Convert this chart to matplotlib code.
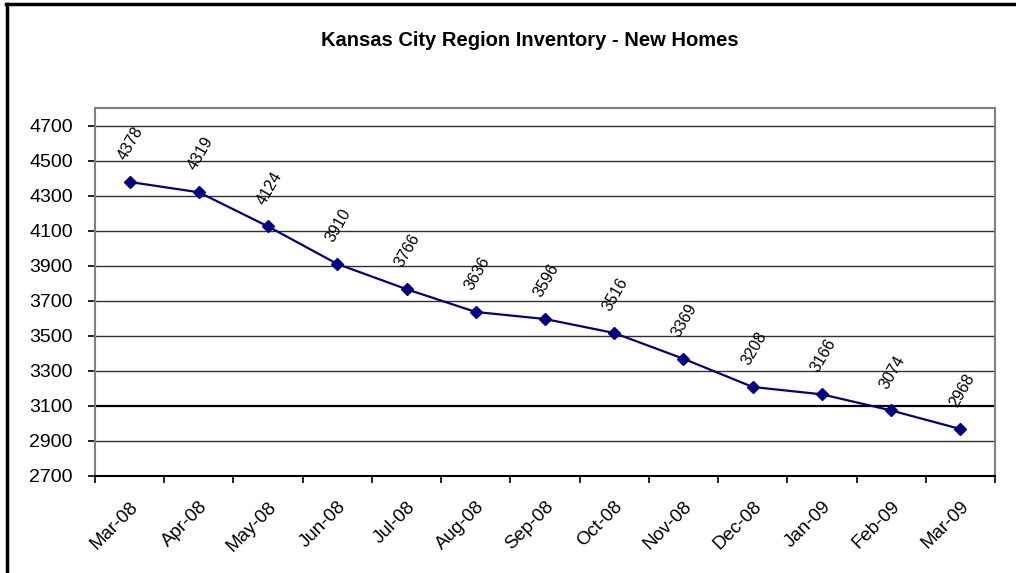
import matplotlib
matplotlib.use('Agg')
import matplotlib.pyplot as plt
from matplotlib.lines import Line2D
import numpy as np

plt.rcParams['font.family'] = ['Liberation Sans', 'DejaVu Sans']

months = ['Mar-08', 'Apr-08', 'May-08', 'Jun-08', 'Jul-08', 'Aug-08', 'Sep-08',
          'Oct-08', 'Nov-08', 'Dec-08', 'Jan-09', 'Feb-09', 'Mar-09']
inventory = [4378, 4319, 4124, 3910, 3766, 3636, 3596, 3516, 3369, 3208, 3166, 3074, 2968]
yticks = [2700, 2900, 3100, 3300, 3500, 3700, 3900, 4100, 4300, 4500, 4700]

fig = plt.figure(figsize=(10.16, 5.73), dpi=100)
ax = fig.add_axes([95/1016, 1-476/573, 900/1016, 368/573])

x = np.arange(len(months))

# grid lines
for v in yticks[1:]:
    if v == 3100:
        ax.axhline(v, color='black', lw=1.6, zorder=1)
    else:
        ax.axhline(v, color='#303030', lw=1.0, zorder=1)

ax.plot(x, inventory, color='#000080', lw=1.6, marker='D', markersize=6, zorder=3)

for xi, v in zip(x, inventory):
    ax.annotate(str(v), (xi, v), xytext=(1, 14), textcoords='offset points',
                ha='center', va='bottom', rotation=60, fontsize=11.5)

ax.set_xlim(-0.5, len(months) - 0.5)
ax.set_ylim(2700, 4800)
ax.set_yticks(yticks)
ax.tick_params(axis='y', labelsize=14, length=5, width=1.2, pad=11, direction='out')

ax.set_xticks(np.arange(len(months) + 1) - 0.5)
ax.set_xticklabels([])
ax.tick_params(axis='x', length=5, width=1.2, direction='out')
ax.set_xticks(x, minor=True)
ax.set_xticklabels(months, minor=True, rotation=45, ha='right', rotation_mode='anchor',
                   fontsize=13.5)
ax.tick_params(axis='x', which='minor', length=0, pad=16)

for s in ['left', 'top', 'right']:
    ax.spines[s].set_color('#808080')
    ax.spines[s].set_linewidth(1.5)
ax.spines['bottom'].set_color('black')
ax.spines['bottom'].set_linewidth(1.5)

fig.text(530/1016, 1-41/573, 'Kansas City Region Inventory - New Homes',
         ha='center', va='center', fontsize=14.5, fontweight='bold')

# outer frame (top and left edges)
fig.add_artist(Line2D([6/1016, 1], [1-4/573, 1-4/573], color='black', lw=2.5))
fig.add_artist(Line2D([6.5/1016, 6.5/1016], [0, 1-4/573], color='black', lw=2.5))

fig.savefig('out.png', dpi=100)
